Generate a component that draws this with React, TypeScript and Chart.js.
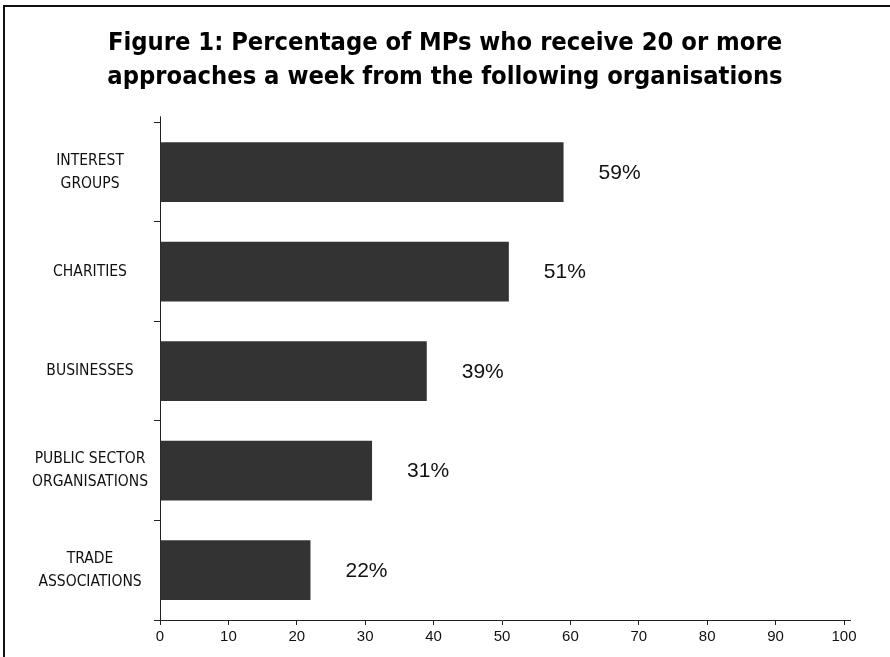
import React, { useEffect, useRef } from 'react';
import { Chart, registerables } from 'chart.js';

Chart.register(...registerables);

const categories: string[][] = [
  ['INTEREST', 'GROUPS'],
  ['CHARITIES'],
  ['BUSINESSES'],
  ['PUBLIC SECTOR', 'ORGANISATIONS'],
  ['TRADE', 'ASSOCIATIONS'],
];
const values: number[] = [59, 51, 39, 31, 22];
const valueLabels: string[] = ['59%', '51%', '39%', '31%', '22%'];
const titleLines: string[] = [
  'Figure 1: Percentage of MPs who receive 20 or more',
  'approaches a week from the following organisations',
];
const xMin = 0;
const xMax = 100;
const xStep = 10;

const NARROW = '"Liberation Sans Narrow", "DejaVu Sans Condensed", "Arial Narrow", sans-serif';
const SANS = '"Liberation Sans", Arial, Helvetica, sans-serif';

const valueLabelPlugin = {
  id: 'valueLabels',
  afterDatasetsDraw(chart: any) {
    const meta = chart.getDatasetMeta(0);
    const ctx = chart.ctx;
    ctx.save();
    ctx.font = '21px ' + SANS;
    ctx.fillStyle = '#111';
    ctx.textAlign = 'left';
    ctx.textBaseline = 'middle';
    meta.data.forEach((bar: any, i: number) => {
      ctx.fillText(valueLabels[i], bar.x + 35, bar.y + 1);
    });
    ctx.restore();
  },
};

const axisExtendPlugin = {
  id: 'axisExtend',
  afterDraw(chart: any) {
    const { left, right, top, bottom } = chart.chartArea;
    const ctx = chart.ctx;
    ctx.save();
    ctx.strokeStyle = '#222';
    ctx.lineWidth = 1;
    ctx.beginPath();
    ctx.moveTo(Math.round(left) + 0.5, top - 6);
    ctx.lineTo(Math.round(left) + 0.5, top);
    ctx.moveTo(right, Math.round(bottom) + 0.5);
    ctx.lineTo(right + 7, Math.round(bottom) + 0.5);
    ctx.stroke();
    ctx.restore();
  },
};

export default function App() {
  const canvasRef = useRef<HTMLCanvasElement | null>(null);

  useEffect(() => {
    const canvas = canvasRef.current;
    if (!canvas) return;
    const chart = new Chart(canvas, {
      type: 'bar',
      data: {
        labels: categories,
        datasets: [
          {
            data: values,
            backgroundColor: '#333333',
            borderWidth: 0,
            categoryPercentage: 1,
            barPercentage: 0.6,
          },
        ],
      },
      options: {
        indexAxis: 'y',
        responsive: false,
        animation: false,
        devicePixelRatio: 1,
        layout: { padding: { left: 0, right: 0, top: 0, bottom: 0 } },
        plugins: {
          legend: { display: false },
          tooltip: { enabled: false },
          title: {
            display: true,
            text: titleLines,
            color: '#000',
            font: { family: NARROW, weight: 'bold', size: 25.3, lineHeight: 1.35 },
            padding: { top: 26, bottom: 28 },
          },
        },
        scales: {
          x: {
            type: 'linear',
            min: xMin,
            max: xMax,
            ticks: {
              stepSize: xStep,
              color: '#111',
              font: { family: SANS, size: 15 },
              padding: 3,
              maxRotation: 0,
            },
            grid: {
              drawOnChartArea: false,
              drawTicks: true,
              tickLength: 5,
              color: '#222',
            },
            border: { display: true, color: '#222', width: 1 },
            afterFit: (scale: any) => {
              scale.height = 37;
              scale.paddingRight = 46;
            },
          },
          y: {
            type: 'category',
            ticks: {
              crossAlign: 'center',
              color: '#111',
              font: { family: NARROW, size: 15.5, lineHeight: 1.48 },
              padding: 6,
              autoSkip: false,
            },
            grid: {
              offset: true,
              drawOnChartArea: false,
              drawTicks: true,
              tickLength: 6,
              color: '#222',
            },
            border: { display: true, color: '#222', width: 1 },
            afterFit: (scale: any) => {
              scale.width = 160;
            },
          },
        },
      },
      plugins: [valueLabelPlugin, axisExtendPlugin],
    });
    return () => chart.destroy();
  }, []);

  return (
    <div style={{ position: 'absolute', left: 0, top: 0, width: 890, height: 657, background: '#fff' }}>
      <canvas ref={canvasRef} width={890} height={657} style={{ display: 'block' }} />
      <div
        style={{
          position: 'absolute',
          left: 3,
          top: 5,
          width: 887,
          height: 652,
          borderTop: '2px solid #111',
          borderLeft: '2px solid #111',
          boxSizing: 'border-box',
          pointerEvents: 'none',
        }}
      />
    </div>
  );
}
